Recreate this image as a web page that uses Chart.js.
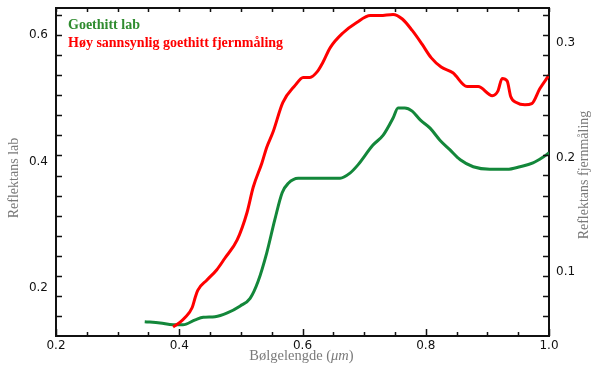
<!DOCTYPE html>
<html><head><meta charset="utf-8">
<script src="https://cdn.jsdelivr.net/npm/chart.js@4.4.1/dist/chart.umd.min.js"></script>
<style>html,body{margin:0;padding:0;background:#fff}#wrap{width:591px;height:370px;position:relative}canvas{display:block}</style>
</head><body><div id="wrap"><canvas id="c" width="591" height="370"></canvas></div>
<script>
// ---- data ----
const seriesNames = ['Goethitt lab', 'Høy sannsynlig goethitt fjernmåling'];
const labWavelength = [0.344,0.369,0.390,0.406,0.426,0.439,0.458,0.478,0.499,0.515,0.528,0.542,0.555,0.567,0.577,0.593,0.628,0.661,0.677,0.690,0.714,0.731,0.747,0.755,0.766,0.778,0.791,0.807,0.823,0.839,0.856,0.877,0.904,0.932,0.953,0.974,0.990,1.0];
const labReflectance = [0.147,0.145,0.142,0.142,0.150,0.154,0.155,0.161,0.172,0.184,0.211,0.256,0.308,0.351,0.366,0.374,0.374,0.374,0.382,0.395,0.426,0.442,0.469,0.485,0.485,0.480,0.466,0.453,0.434,0.419,0.403,0.392,0.388,0.388,0.392,0.398,0.407,0.414];
const remoteWavelength = [0.390,0.401,0.409,0.421,0.426,0.430,0.445,0.461,0.474,0.494,0.510,0.520,0.534,0.542,0.552,0.568,0.588,0.601,0.612,0.624,0.633,0.645,0.666,0.688,0.710,0.726,0.747,0.762,0.778,0.794,0.809,0.825,0.844,0.867,0.885,0.908,0.917,0.924,0.932,0.938,0.947,0.961,0.972,0.985,1.0];
const remoteReflectance = [0.052,0.056,0.060,0.069,0.078,0.084,0.093,0.102,0.112,0.128,0.152,0.174,0.195,0.209,0.222,0.248,0.263,0.270,0.270,0.275,0.283,0.296,0.309,0.318,0.324,0.324,0.325,0.321,0.311,0.299,0.287,0.279,0.274,0.262,0.262,0.254,0.258,0.269,0.267,0.253,0.248,0.246,0.247,0.260,0.272];
const xTicks = [0.2, 0.4, 0.6, 0.8, 1.0];
const leftTicks = [0.2, 0.4, 0.6];
const rightTicks = [0.1, 0.2, 0.3];
const xMinorStep = 0.05;
const leftMinorStart = 0.6324, leftMinorStep = 0.0318;
const rightMinorStart = 0.3247, rightMinorStep = 0.01755;

const GREEN = '#13873a', RED = '#ff0000', AXIS = '#111';
const SERIF = '"Liberation Serif", "DejaVu Serif", serif';

const labPoints = labWavelength.map((x, i) => ({x, y: labReflectance[i]}));
const remotePoints = remoteWavelength.map((x, i) => ({x, y: remoteReflectance[i]}));

const decorPlugin = {
  id: 'decor',
  afterDraw(chart) {
    const {ctx, chartArea: a, scales} = chart;
    const xs = scales.x, yl = scales.y, yr = scales.y1;
    ctx.save();
    // top border
    ctx.strokeStyle = AXIS; ctx.lineWidth = 2;
    ctx.beginPath(); ctx.moveTo(a.left - 1, a.top); ctx.lineTo(a.right + 1, a.top); ctx.stroke();
    // inward ticks
    ctx.lineWidth = 1.5;
    ctx.beginPath();
    for (let v = xs.min; v <= xs.max + 1e-9; v += xMinorStep) {
      const px = Math.round(xs.getPixelForValue(v)) + 0.5;
      const major = Math.abs(v / 0.2 - Math.round(v / 0.2)) < 1e-6;
      ctx.moveTo(px, a.bottom); ctx.lineTo(px, a.bottom - (major ? 7 : 4));
      ctx.moveTo(px, a.top); ctx.lineTo(px, a.top + 4);
    }
    for (let v = leftMinorStart; v > yl.min; v -= leftMinorStep) {
      const py = Math.round(yl.getPixelForValue(v)) + 0.5;
      ctx.moveTo(a.left, py); ctx.lineTo(a.left + 6, py);
    }
    for (let v = rightMinorStart; v > yr.min; v -= rightMinorStep) {
      const py = Math.round(yr.getPixelForValue(v)) + 0.5;
      ctx.moveTo(a.right, py); ctx.lineTo(a.right - 6, py);
    }
    ctx.stroke();
    // axis titles
    ctx.fillStyle = '#7a7a7a';
    ctx.font = '14px ' + SERIF;
    ctx.textAlign = 'center'; ctx.textBaseline = 'middle';
    ctx.save(); ctx.translate(14, 178); ctx.rotate(-Math.PI / 2); ctx.fillText('Reflektans lab', 0, 0); ctx.restore();
    ctx.save(); ctx.translate(584, 175); ctx.rotate(-Math.PI / 2); ctx.fillText('Reflektans fjernmåling', 0, 0); ctx.restore();
    const p1 = 'Bølgelengde (', p2 = 'μm', p3 = ')';
    const fN = '14.5px ' + SERIF, fI = 'italic 14.5px ' + SERIF;
    ctx.font = fN; const w1 = ctx.measureText(p1).width, w3 = ctx.measureText(p3).width;
    ctx.font = fI; const w2 = ctx.measureText(p2).width;
    let sx = 301.5 - (w1 + w2 + w3) / 2;
    ctx.textAlign = 'left';
    ctx.font = fN; ctx.fillText(p1, sx, 356);
    ctx.font = fI; ctx.fillText(p2, sx + w1, 356);
    ctx.font = fN; ctx.fillText(p3, sx + w1 + w2, 356);
    // legend
    ctx.font = 'bold 14px ' + SERIF;
    ctx.fillStyle = '#2f8c2f'; ctx.fillText(seriesNames[0], 68, 25);
    ctx.fillStyle = RED; ctx.fillText(seriesNames[1], 68, 43);
    ctx.restore();
  }
};

const noPadV = s => { s.paddingTop = 0; s.paddingBottom = 0; };

new Chart(document.getElementById('c'), {
  type: 'line',
  data: {
    datasets: [
      {label: seriesNames[1], data: remotePoints, yAxisID: 'y1', borderColor: RED, borderWidth: 3,
       pointRadius: 0, fill: false, cubicInterpolationMode: 'monotone', order: 0},
      {label: seriesNames[0], data: labPoints, yAxisID: 'y', borderColor: GREEN, borderWidth: 3,
       pointRadius: 0, fill: false, cubicInterpolationMode: 'monotone', order: 1}
    ]
  },
  options: {
    responsive: false, animation: false, devicePixelRatio: 1, events: [],
    layout: {padding: {top: 8, left: 0, right: 0, bottom: 0}},
    plugins: {legend: {display: false}, tooltip: {enabled: false}},
    scales: {
      x: {
        type: 'linear', position: 'bottom', min: 0.2, max: 1.0,
        afterBuildTicks: s => { s.ticks = xTicks.map(v => ({value: v})); },
        afterFit: s => { s.height = 34; s.paddingLeft = 0; s.paddingRight = 0; },
        ticks: {callback: v => Number(v).toFixed(1), color: '#111', padding: 3,
                font: {family: '"DejaVu Sans", sans-serif', size: 12}, maxRotation: 0, autoSkip: false},
        grid: {display: false, drawTicks: false},
        border: {display: true, color: AXIS, width: 2}
      },
      y: {
        type: 'linear', position: 'left', min: 0.1244, max: 0.643,
        afterBuildTicks: s => { s.ticks = leftTicks.map(v => ({value: v})); },
        afterFit: s => { s.width = 56; noPadV(s); },
        ticks: {callback: v => Number(v).toFixed(1), color: '#111', padding: 8,
                font: {family: '"DejaVu Sans", sans-serif', size: 12}},
        grid: {display: false, drawTicks: false},
        border: {display: true, color: AXIS, width: 2}
      },
      y1: {
        type: 'linear', position: 'right', min: 0.0441, max: 0.3306,
        afterBuildTicks: s => { s.ticks = rightTicks.map(v => ({value: v})); },
        afterFit: s => { s.width = 42; noPadV(s); },
        ticks: {callback: v => Number(v).toFixed(1), color: '#111', padding: 7,
                font: {family: '"DejaVu Sans", sans-serif', size: 12}},
        grid: {display: false, drawTicks: false},
        border: {display: true, color: AXIS, width: 2}
      }
    }
  },
  plugins: [decorPlugin]
});
</script>
</body></html>
